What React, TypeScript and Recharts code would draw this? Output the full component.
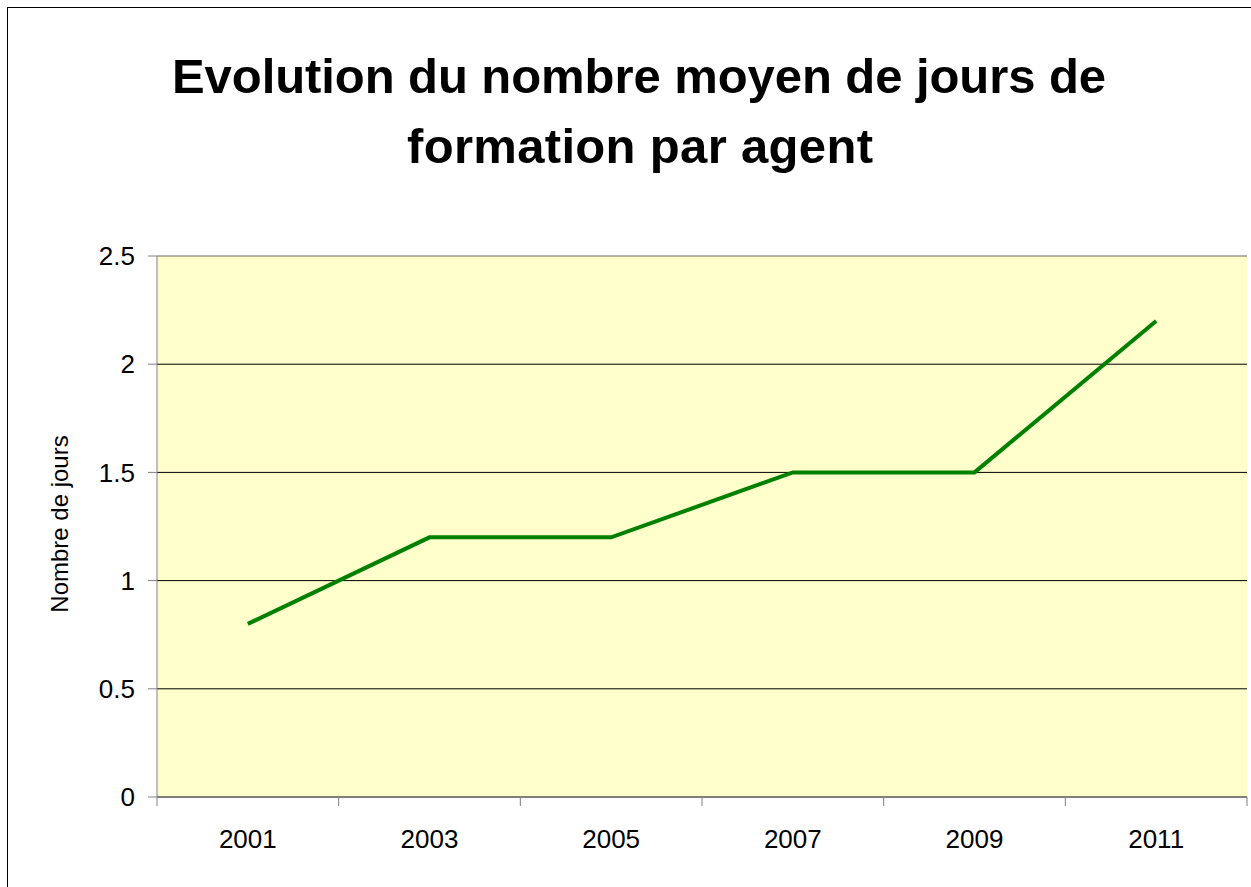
import { LineChart, Line, XAxis, YAxis, CartesianGrid } from 'recharts';

const years = ['2001', '2003', '2005', '2007', '2009', '2011'];
const joursMoyens = [0.8, 1.2, 1.2, 1.5, 1.5, 2.2];
const yTicks = [0, 0.5, 1, 1.5, 2, 2.5];

const data = years.map((year, i) => ({ year, jours: joursMoyens[i] }));

const W = 1251;
const H = 887;
const PLOT_LEFT = 157;
const PLOT_RIGHT = 1247;
const PLOT_TOP = 256;
const PLOT_BOTTOM = 797;
const Y_AXIS_W = 100;
const X_AXIS_H = 60;
const BAND = (PLOT_RIGHT - PLOT_LEFT) / years.length;

const axisGrey = '#808080';
const tickFont = { fontFamily: '"Liberation Sans", Arial, sans-serif', fontSize: 26, fill: '#000' };

function YearTick(props: any) {
  const { x, payload, index, visibleTicksCount } = props;
  const left = x - BAND / 2;
  const right = x + BAND / 2;
  return (
    <g>
      <line x1={left} x2={left} y1={PLOT_BOTTOM} y2={PLOT_BOTTOM + 9} stroke={axisGrey} strokeWidth={1} />
      {index === visibleTicksCount - 1 && (
        <line x1={right} x2={right} y1={PLOT_BOTTOM} y2={PLOT_BOTTOM + 9} stroke={axisGrey} strokeWidth={1} />
      )}
      <text x={x} y={PLOT_BOTTOM + 51} textAnchor="middle" {...tickFont}>
        {payload.value}
      </text>
    </g>
  );
}

// top edge of the plot is drawn in grey, the other gridlines in black
function GridLine(props: any) {
  const { x1, x2, y1, y2 } = props;
  const top = Math.abs(y1 - PLOT_TOP) < 1;
  return <line x1={x1} x2={x2} y1={y1} y2={y2} stroke={top ? '#666' : '#000'} strokeWidth={1} />;
}

export default function App() {
  return (
    <div style={{ position: 'absolute', left: 0, top: 0, width: W, height: H, background: '#fff' }}>
      <div
        style={{
          position: 'absolute',
          left: 7,
          top: 7,
          width: W - 7,
          height: H - 7,
          boxSizing: 'border-box',
          borderLeft: '1px solid #000',
          borderTop: '1px solid #000',
        }}
      />
      <LineChart
        width={W}
        height={H}
        data={data}
        style={{ position: 'absolute', left: 0, top: 0 }}
        margin={{
          top: PLOT_TOP,
          right: W - PLOT_RIGHT,
          bottom: H - PLOT_BOTTOM - X_AXIS_H,
          left: PLOT_LEFT - Y_AXIS_W,
        }}
      >
        <CartesianGrid
          vertical={false}
          horizontal={(p: any) => <GridLine key={p.key} {...p} />}
          stroke="#000"
          strokeWidth={1}
          fill="#FFFFCC"
          fillOpacity={1}
        />
        <XAxis
          dataKey="year"
          height={X_AXIS_H}
          padding={{ left: BAND / 2, right: BAND / 2 }}
          axisLine={{ stroke: axisGrey }}
          tickLine={false}
          tick={<YearTick />}
          interval={0}
        />
        <YAxis
          width={Y_AXIS_W}
          domain={[0, 2.5]}
          ticks={yTicks}
          tickSize={9}
          tickMargin={13}
          axisLine={{ stroke: axisGrey }}
          tickLine={{ stroke: axisGrey }}
          tick={tickFont}
          interval={0}
        />
        <Line
          type="linear"
          dataKey="jours"
          stroke="#008000"
          strokeWidth={4}
          dot={false}
          activeDot={false}
          isAnimationActive={false}
        />
      </LineChart>
      <svg width={W} height={H} style={{ position: 'absolute', left: 0, top: 0, pointerEvents: 'none' }}>
        <g fontFamily='"Liberation Sans", Arial, sans-serif' fontWeight="bold" fontSize={49} fill="#000">
          <text x={639} y={93} textAnchor="middle" textLength={934} lengthAdjust="spacing">
            Evolution du nombre moyen de jours de
          </text>
          <text x={640} y={163} textAnchor="middle" textLength={466} lengthAdjust="spacing">
            formation par agent
          </text>
        </g>
        <text
          transform="translate(68, 524) rotate(-90)"
          textAnchor="middle"
          fontFamily='"Liberation Sans", Arial, sans-serif'
          fontSize={24}
          fill="#000"
        >
          Nombre de jours
        </text>
      </svg>
    </div>
  );
}
